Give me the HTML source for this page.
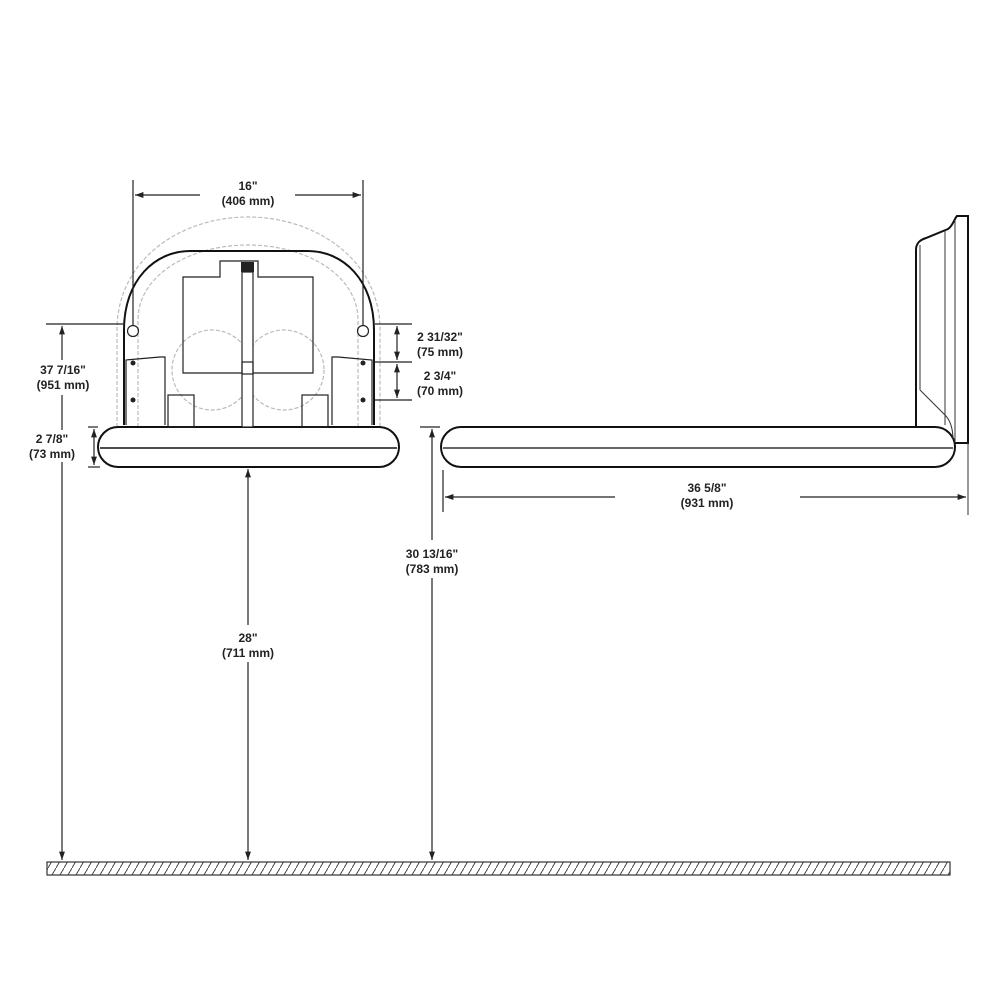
<!DOCTYPE html>
<html><head><meta charset="utf-8"><style>
html,body{margin:0;padding:0;background:#fff}
svg{display:block}
text{font-family:"Liberation Sans",sans-serif;font-size:12px;font-weight:bold;fill:#222;text-anchor:middle}
</style></head><body>
<svg width="1000" height="1000" viewBox="0 0 1000 1000" xmlns="http://www.w3.org/2000/svg">
<defs>
<marker id="a" viewBox="0 0 10 10" refX="10" refY="5" markerWidth="7" markerHeight="7" orient="auto-start-reverse"><path d="M0,1.5 L10,5 L0,8.5 z" fill="#222"/></marker>
<pattern id="h" width="8" height="14" patternUnits="userSpaceOnUse"><path d="M0,14 L8,0" stroke="#444" stroke-width="1"/></pattern>
</defs>

<g fill="none" stroke="#bbb" stroke-width="1.2" stroke-dasharray="4,2">
<path d="M117,427 L117,330 C117,260 180,217 248,217 C316,217 380,260 380,330 L380,427"/>
<path d="M138,427 L138,320 C138,275 190,245 248,245 C306,245 358,275 358,320 L358,427"/>
<circle cx="212" cy="370" r="40"/><circle cx="284" cy="370" r="40"/>
</g>

<g fill="none" stroke="#111" stroke-width="2">
<path d="M124,425 L124,330 C124,280 155,251 190,251 L308,251 C343,251 374,280 374,330 L374,425"/>
<rect x="98" y="427" width="301" height="40" rx="20" fill="#fff"/>
</g>
<line x1="100" y1="448" x2="397" y2="448" stroke="#111" stroke-width="1.5"/>
<g fill="none" stroke="#222" stroke-width="1.2">
<path d="M183,277 L220,277 L220,261 L258,261 L258,277 L313,277 L313,373 L183,373 Z"/>
<rect x="242" y="272" width="11" height="155" fill="#fff"/>
<rect x="242" y="362" width="11" height="12"/>
<circle cx="133" cy="331" r="5.5"/><circle cx="363" cy="331" r="5.5"/>
<path d="M126,425 L126,360 L160,357 L165,357 L165,425"/>
<path d="M372,425 L372,360 L338,357 L332,357 L332,425"/>
<rect x="168" y="395" width="26" height="32"/><rect x="302" y="395" width="26" height="32"/>
</g>
<g fill="#222"><circle cx="133" cy="363" r="2.5"/><circle cx="133" cy="400" r="2.5"/><circle cx="363" cy="363" r="2.5"/><circle cx="363" cy="400" r="2.5"/>
<rect x="241" y="262" width="13" height="10"/></g>

<g fill="none" stroke="#111" stroke-width="2">
<path d="M916,427 L916,250 C916,243 920,240 926,238 L948,229 C953,226 954,219 957,216 L968,216 L968,443 L955,443"/>
<rect x="441" y="427" width="514" height="40" rx="20" fill="#fff"/>
</g>
<g fill="none" stroke="#333" stroke-width="1">
<line x1="945" y1="230" x2="945" y2="425"/><line x1="955" y1="220" x2="955" y2="443"/><line x1="920" y1="245" x2="920" y2="390"/>
<path d="M920,390 L945,415 C950,420 953,428 953,440"/>
<line x1="443" y1="448" x2="953" y2="448" stroke-width="1.5"/>
<line x1="968" y1="443" x2="968" y2="515"/>
</g>

<rect x="47" y="862" width="903" height="13" fill="url(#h)" stroke="#333" stroke-width="1.2"/>

<g stroke="#222" stroke-width="1.2" fill="none">
<line x1="133" y1="180" x2="133" y2="325"/><line x1="363" y1="180" x2="363" y2="325"/>
<line x1="135" y1="195" x2="200" y2="195" marker-start="url(#a)"/><line x1="295" y1="195" x2="361" y2="195" marker-end="url(#a)"/>
<line x1="46" y1="324" x2="125" y2="324"/>
<line x1="62" y1="326" x2="62" y2="360" marker-start="url(#a)"/><line x1="62" y1="395" x2="62" y2="860" marker-end="url(#a)"/>
<line x1="88" y1="427" x2="98" y2="427"/><line x1="88" y1="467" x2="100" y2="467"/>
<line x1="94" y1="429" x2="94" y2="465" marker-start="url(#a)" marker-end="url(#a)"/>
<line x1="248" y1="469" x2="248" y2="625" marker-start="url(#a)"/><line x1="248" y1="662" x2="248" y2="860" marker-end="url(#a)"/>
<line x1="420" y1="427" x2="440" y2="427"/>
<line x1="432" y1="429" x2="432" y2="540" marker-start="url(#a)"/><line x1="432" y1="578" x2="432" y2="860" marker-end="url(#a)"/>
<line x1="375" y1="324" x2="412" y2="324"/><line x1="375" y1="362" x2="412" y2="362"/><line x1="375" y1="400" x2="412" y2="400"/>
<line x1="397" y1="326" x2="397" y2="360" marker-start="url(#a)" marker-end="url(#a)"/>
<line x1="397" y1="364" x2="397" y2="398" marker-start="url(#a)" marker-end="url(#a)"/>
<line x1="443" y1="470" x2="443" y2="512"/>
<line x1="445" y1="497" x2="615" y2="497" marker-start="url(#a)"/><line x1="800" y1="497" x2="966" y2="497" marker-end="url(#a)"/>
</g>

<rect x="26" y="430" width="54" height="32" fill="#fff"/>

<text x="248" y="190">16"</text><text x="248" y="205">(406 mm)</text>
<text x="63" y="374">37 7/16"</text><text x="63" y="389">(951 mm)</text>
<text x="52" y="443">2 7/8"</text><text x="52" y="458">(73 mm)</text>
<text x="248" y="642">28"</text><text x="248" y="657">(711 mm)</text>
<text x="432" y="558">30 13/16"</text><text x="432" y="573">(783 mm)</text>
<text x="440" y="341">2 31/32"</text><text x="440" y="356">(75 mm)</text>
<text x="440" y="380">2 3/4"</text><text x="440" y="395">(70 mm)</text>
<text x="707" y="492">36 5/8"</text><text x="707" y="507">(931 mm)</text>
</svg>
</body></html>
